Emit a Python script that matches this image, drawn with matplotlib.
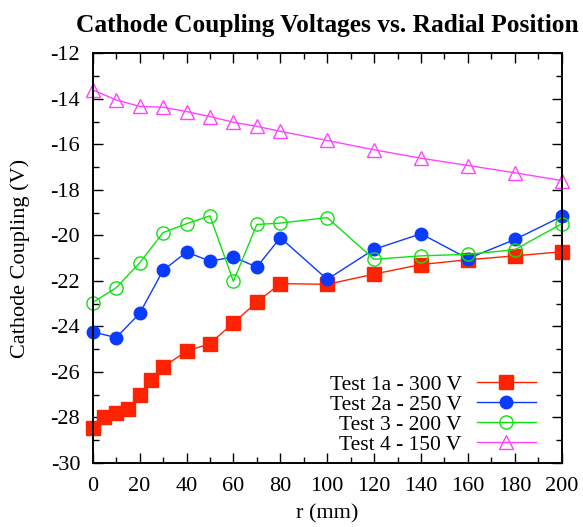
import matplotlib
matplotlib.use("Agg")
import matplotlib.pyplot as plt
from matplotlib.ticker import MultipleLocator

# radial positions (mm)
r_test1 = [0, 5, 10, 15, 20, 25, 30, 40, 50, 60, 70, 80, 100, 120, 140, 160, 180, 200]
r_other = [0, 10, 20, 30, 40, 50, 60, 70, 80, 100, 120, 140, 160, 180, 200]

# coupling voltages (V)
v_test1 = [-28.48, -28.0, -27.82, -27.64, -27.0, -26.36, -25.78, -25.09, -24.75,
           -23.85, -22.93, -22.12, -22.15, -21.7, -21.28, -21.07, -20.9, -20.72]
v_test2 = [-24.24, -24.49, -23.43, -21.54, -20.73, -21.13, -20.95, -21.39, -20.1,
           -21.93, -20.61, -19.93, -21.02, -20.18, -19.17]
v_test3 = [-22.95, -22.3, -21.21, -19.88, -19.49, -19.14, -22.02, -19.52, -19.46,
           -19.22, -21.05, -20.9, -20.83, -20.63, -19.49]
v_test4 = [-13.61, -14.05, -14.33, -14.37, -14.56, -14.78, -15.03, -15.21, -15.43,
           -15.83, -16.24, -16.61, -16.93, -17.25, -17.59]

labels = ["Test 1a - 300 V", "Test 2a - 250 V", "Test 3 - 200 V", "Test 4 - 150 V"]

plt.rcParams["font.family"] = ["Liberation Serif", "DejaVu Serif"]
plt.rcParams["font.size"] = 16
plt.rcParams["axes.unicode_minus"] = False


def main():
    fig = plt.figure(figsize=(5.83, 5.27), dpi=100)
    ax = fig.add_axes([0.159, 0.1214, 0.8045, 0.7775])

    ax.plot(r_test1, v_test1, color="#ff2200", lw=1.0, marker="s", ms=9.5,
            mec="#ff2200", mfc="#ff2200", label=labels[0], clip_on=False)
    ax.plot(r_other, v_test2, color="#0a3cff", lw=1.0, marker="o", ms=9,
            mec="#0a3cff", mfc="#0a3cff", label=labels[1], clip_on=False)
    ax.plot(r_other, v_test3, color="#11e011", lw=1.0, marker="o", ms=9.5,
            mec="#11e011", mfc="none", mew=1.0, label=labels[2], clip_on=False)
    ax.plot(r_other, v_test4, color="#ff44ff", lw=1.0, marker="^", ms=9.5,
            mec="#ff44ff", mfc="none", mew=1.0, label=labels[3], clip_on=False)

    ax.set_xlim(0, 200)
    ax.set_ylim(-30, -12)
    ax.xaxis.set_major_locator(MultipleLocator(20))
    ax.xaxis.set_minor_locator(MultipleLocator(10))
    ax.yaxis.set_major_locator(MultipleLocator(2))
    ax.yaxis.set_minor_locator(MultipleLocator(1))
    ax.tick_params(which="both", direction="in", top=True, right=True, width=1.0)
    ax.tick_params(which="major", length=7)
    ax.tick_params(which="minor", length=4)
    ax.tick_params(axis="x", pad=10)
    ax.tick_params(axis="y", pad=9)
    for s in ax.spines.values():
        s.set_linewidth(1.4)

    ax.set_xlabel("r (mm)", labelpad=6)
    ax.set_ylabel("Cathode Coupling (V)", labelpad=15)
    ax.set_title("Cathode Coupling Voltages vs. Radial Position",
                 fontweight="bold", fontsize=18.3, pad=15)

    ax.legend(loc="lower right", bbox_to_anchor=(0.945, 0.02), frameon=False,
              markerfirst=False, handlelength=2.75, labelspacing=0.0,
              borderaxespad=0.0, borderpad=0.0, handletextpad=0.7,
              fontsize=15.5)

    fig.savefig("out.png", dpi=100)


main()
